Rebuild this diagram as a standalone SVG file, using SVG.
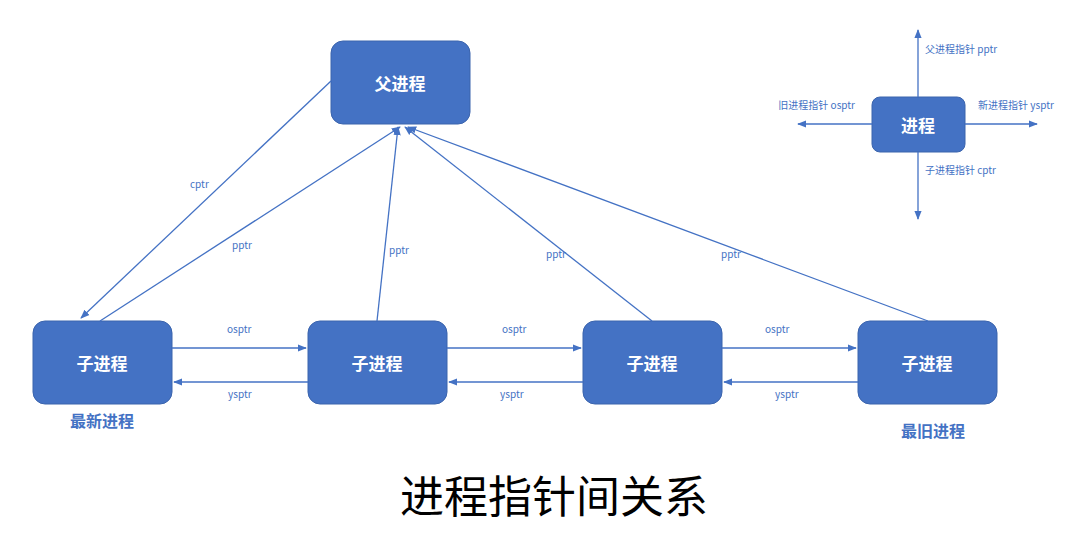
<svg xmlns="http://www.w3.org/2000/svg" width="1075" height="537" viewBox="0 0 1075 537">
<style>
.n{fill:#4472c4;stroke:#3b64ad;stroke-width:1}
.t{font-family:"Noto Sans CJK SC",sans-serif;font-weight:bold;fill:#fff;font-size:17px;text-anchor:middle;dominant-baseline:central}
.l{font-family:"Noto Sans CJK SC",sans-serif;fill:#4472c4;font-size:10px}
.c line{stroke:#4472c4;stroke-width:1.3;marker-end:url(#a)}
.b{font-family:"Noto Sans CJK SC",sans-serif;font-weight:bold;fill:#4472c4;font-size:16px;text-anchor:middle}
</style>
<defs><marker id="a" viewBox="0 0 10 10" refX="9" refY="5" markerWidth="7" markerHeight="7" orient="auto"><path d="M0,1L10,5L0,9z" fill="#4472c4"/></marker></defs>
<rect width="1075" height="537" fill="#fff"/>
<g id="parent"><rect class="n" x="331" y="41" width="139" height="83" rx="12"/><text class="t" x="400" y="82">父进程</text></g>
<g id="c1"><rect class="n" x="33" y="321" width="139" height="83" rx="12"/><text class="t" x="102" y="362">子进程</text></g>
<g id="c2"><rect class="n" x="308" y="321" width="139" height="83" rx="12"/><text class="t" x="377" y="362">子进程</text></g>
<g id="c3"><rect class="n" x="583" y="321" width="139" height="83" rx="12"/><text class="t" x="652" y="362">子进程</text></g>
<g id="c4"><rect class="n" x="858" y="321" width="139" height="83" rx="12"/><text class="t" x="927" y="362">子进程</text></g>
<g id="legend"><rect class="n" x="872" y="97" width="93" height="55" rx="8"/><text class="t" x="918" y="124">进程</text></g>
<g class="c" id="connectors">
<line x1="331" y1="81" x2="81" y2="318"/>
<line x1="100" y1="321" x2="400" y2="127"/>
<line x1="377" y1="321" x2="398" y2="127"/>
<line x1="652" y1="321" x2="405" y2="127"/>
<line x1="928" y1="321" x2="408" y2="127"/>
<line x1="172" y1="348" x2="306" y2="348"/>
<line x1="447" y1="348" x2="581" y2="348"/>
<line x1="722" y1="348" x2="856" y2="348"/>
<line x1="308" y1="382" x2="174" y2="382"/>
<line x1="583" y1="382" x2="449" y2="382"/>
<line x1="858" y1="382" x2="724" y2="382"/>
<line x1="918" y1="97" x2="918" y2="30"/>
<line x1="918" y1="152" x2="918" y2="219"/>
<line x1="872" y1="124" x2="798" y2="124"/>
<line x1="965" y1="124" x2="1037" y2="124"/>
</g>
<g class="l">
<text x="190" y="188">cptr</text>
<text x="232" y="249">pptr</text>
<text x="389" y="254">pptr</text>
<text x="546" y="258">pptr</text>
<text x="721" y="258">pptr</text>
<text x="227" y="333">osptr</text>
<text x="502" y="333">osptr</text>
<text x="765" y="333">osptr</text>
<text x="228" y="398">ysptr</text>
<text x="500" y="398">ysptr</text>
<text x="775" y="398">ysptr</text>
<text x="925" y="53">父进程指针 pptr</text>
<text x="855" y="109" text-anchor="end">旧进程指针 osptr</text>
<text x="978" y="109">新进程指针 ysptr</text>
<text x="925" y="174">子进程指针 cptr</text>
</g>
<text class="b" x="102" y="427">最新进程</text>
<text class="b" x="933" y="437">最旧进程</text>
<text x="554" y="513" font-family="Noto Sans CJK SC,sans-serif" font-size="44" text-anchor="middle" fill="#000">进程指针间关系</text>
</svg>
